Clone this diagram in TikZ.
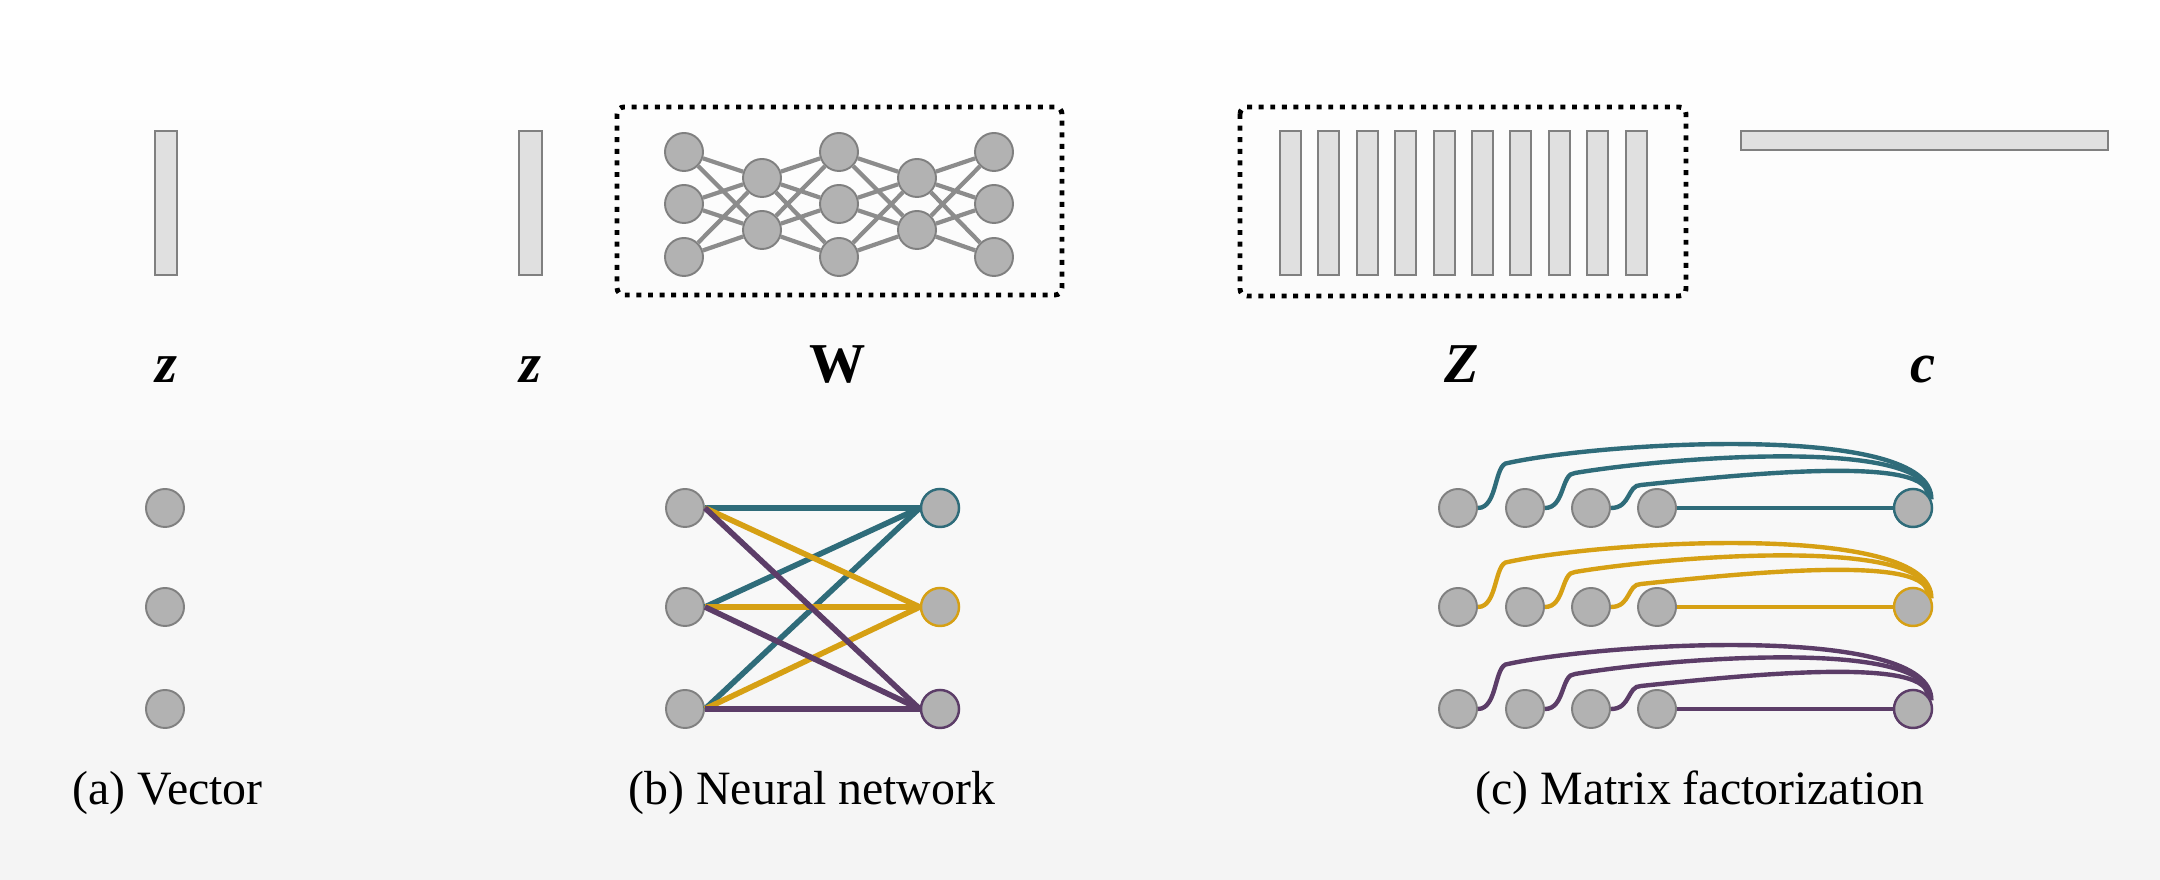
\documentclass[tikz,border=0pt]{standalone}
\usepackage{fontspec}
\setmainfont{Liberation Serif}
\usetikzlibrary{calc}
\definecolor{teal1}{RGB}{47,108,122}
\definecolor{gold1}{RGB}{214,160,20}
\definecolor{purp1}{RGB}{92,61,104}
\definecolor{nodefill}{RGB}{178,178,178}
\definecolor{nodeedge}{RGB}{128,128,128}
\definecolor{barfill}{RGB}{224,224,224}
\definecolor{nnline}{RGB}{140,140,140}
\definecolor{bgbottom}{RGB}{244,244,244}
\begin{document}
\begin{tikzpicture}[x=0.01cm,y=-0.01cm,
  gdot/.style={circle,minimum size=3.8mm,inner sep=0pt,fill=nodefill,draw=nodeedge,line width=0.55pt},
  vbar/.style={fill=barfill,draw=nodeedge,line width=0.6pt},
  dotbox/.style={draw=black,line width=1.4pt,dash pattern=on 1.4pt off 1.9pt,rounded corners=2pt},
  lab/.style={font=\fontsize{16}{19}\selectfont\bfseries\itshape,anchor=base,inner sep=0pt},
  labup/.style={font=\fontsize{16}{19}\selectfont\bfseries,anchor=base,inner sep=0pt},
  captxt/.style={font=\fontsize{13.6}{16}\selectfont,anchor=base west,inner sep=0pt},
  nnl/.style={draw=nnline,line width=1.2pt},
  bline/.style={line width=1.6pt},
  cline/.style={line width=1.25pt}]
\useasboundingbox (0,0) rectangle (2160,880);
\fill[top color=white,middle color=white,bottom color=bgbottom] (0,0) rectangle (2160,880);

% ---------- (a) Vector ----------
\draw[vbar] (155,131) rectangle (177,275);
\node[lab] (la) at (166,383) {z};
\foreach \j/\y in {1/508,2/607,3/709}
  \node[gdot] (a\j) at (165,\y) {};
\node[captxt] (capa) at (72,805) {(a) Vector};

% ---------- (b) Neural network ----------
\draw[vbar] (519,131) rectangle (542,275);
\node[lab] (lb) at (530,383) {z};
\draw[dotbox] (617,107) rectangle (1062,295);
\node[labup] (lw) at (838,383) {W};
\foreach \i/\x in {1/684,3/839,5/994}
  \foreach \j/\y in {1/152,2/204,3/257}
    \node[gdot] (w\i\j) at (\x,\y) {};
\foreach \i/\x in {2/762,4/917}
  \foreach \j/\y in {1/178,2/230}
    \node[gdot] (w\i\j) at (\x,\y) {};
\foreach \a in {1,2,3} \foreach \b in {1,2} {
  \draw[nnl] (w1\a) -- (w2\b);
  \draw[nnl] (w2\b) -- (w3\a);
  \draw[nnl] (w3\a) -- (w4\b);
  \draw[nnl] (w4\b) -- (w5\a);
}
\foreach \j/\y in {1/508,2/607,3/709}
  \node[gdot] (bl\j) at (685,\y) {};
\node[gdot,draw=teal1,line width=0.7pt] (br1) at (940,508) {};
\node[gdot,draw=gold1,line width=0.7pt] (br2) at (940,607) {};
\node[gdot,draw=purp1,line width=0.7pt] (br3) at (940,709) {};
\foreach \j in {1,2,3} \draw[bline,teal1] (bl\j.east) -- (br1.west);
\foreach \j in {1,2,3} \draw[bline,gold1] (bl\j.east) -- (br2.west);
\foreach \j in {1,2,3} \draw[bline,purp1] (bl\j.east) -- (br3.west);
\node[captxt] (capb) at (628,805) {(b) Neural network};

% ---------- (c) Matrix factorization ----------
\draw[dotbox] (1240,107) rectangle (1686,296);
\foreach \k in {0,...,9}
  \draw[vbar] ({1280+38.4*\k},131) rectangle ({1301+38.4*\k},275);
\node[lab] (lz) at (1462,383) {Z};
\draw[vbar] (1741,131) rectangle (2108,150);
\node[lab] (lc) at (1923,383) {c};

\foreach \r/\y/\col in {1/508/teal1,2/607/gold1,3/709/purp1} {
  \node[gdot] (c\r1) at (1458,\y) {};
  \node[gdot] (c\r2) at (1525,\y) {};
  \node[gdot] (c\r3) at (1591,\y) {};
  \node[gdot] (c\r4) at (1657,\y) {};
  \node[gdot,draw=\col,line width=0.7pt] (c\r R) at (1913,\y) {};
  \draw[cline,\col] (c\r4.east) -- (c\r R.west);
  \foreach \i/\hs/\hp/\ang/\cx in {1/45/66/25/20,2/35/51/35/17,3/23/33/45/13}
    \draw[cline,\col] (c\r\i.east) .. controls +(20,0) and +(-14,0) .. ++(30,-\hs)
      .. controls +(95,\hs-\hp) and ($(c\r R.center)+(\cx,-\hp-20)$) .. (c\r R.\ang);
}
\node[captxt] (capc) at (1475,805) {(c) Matrix factorization};
\end{tikzpicture}
\end{document}
